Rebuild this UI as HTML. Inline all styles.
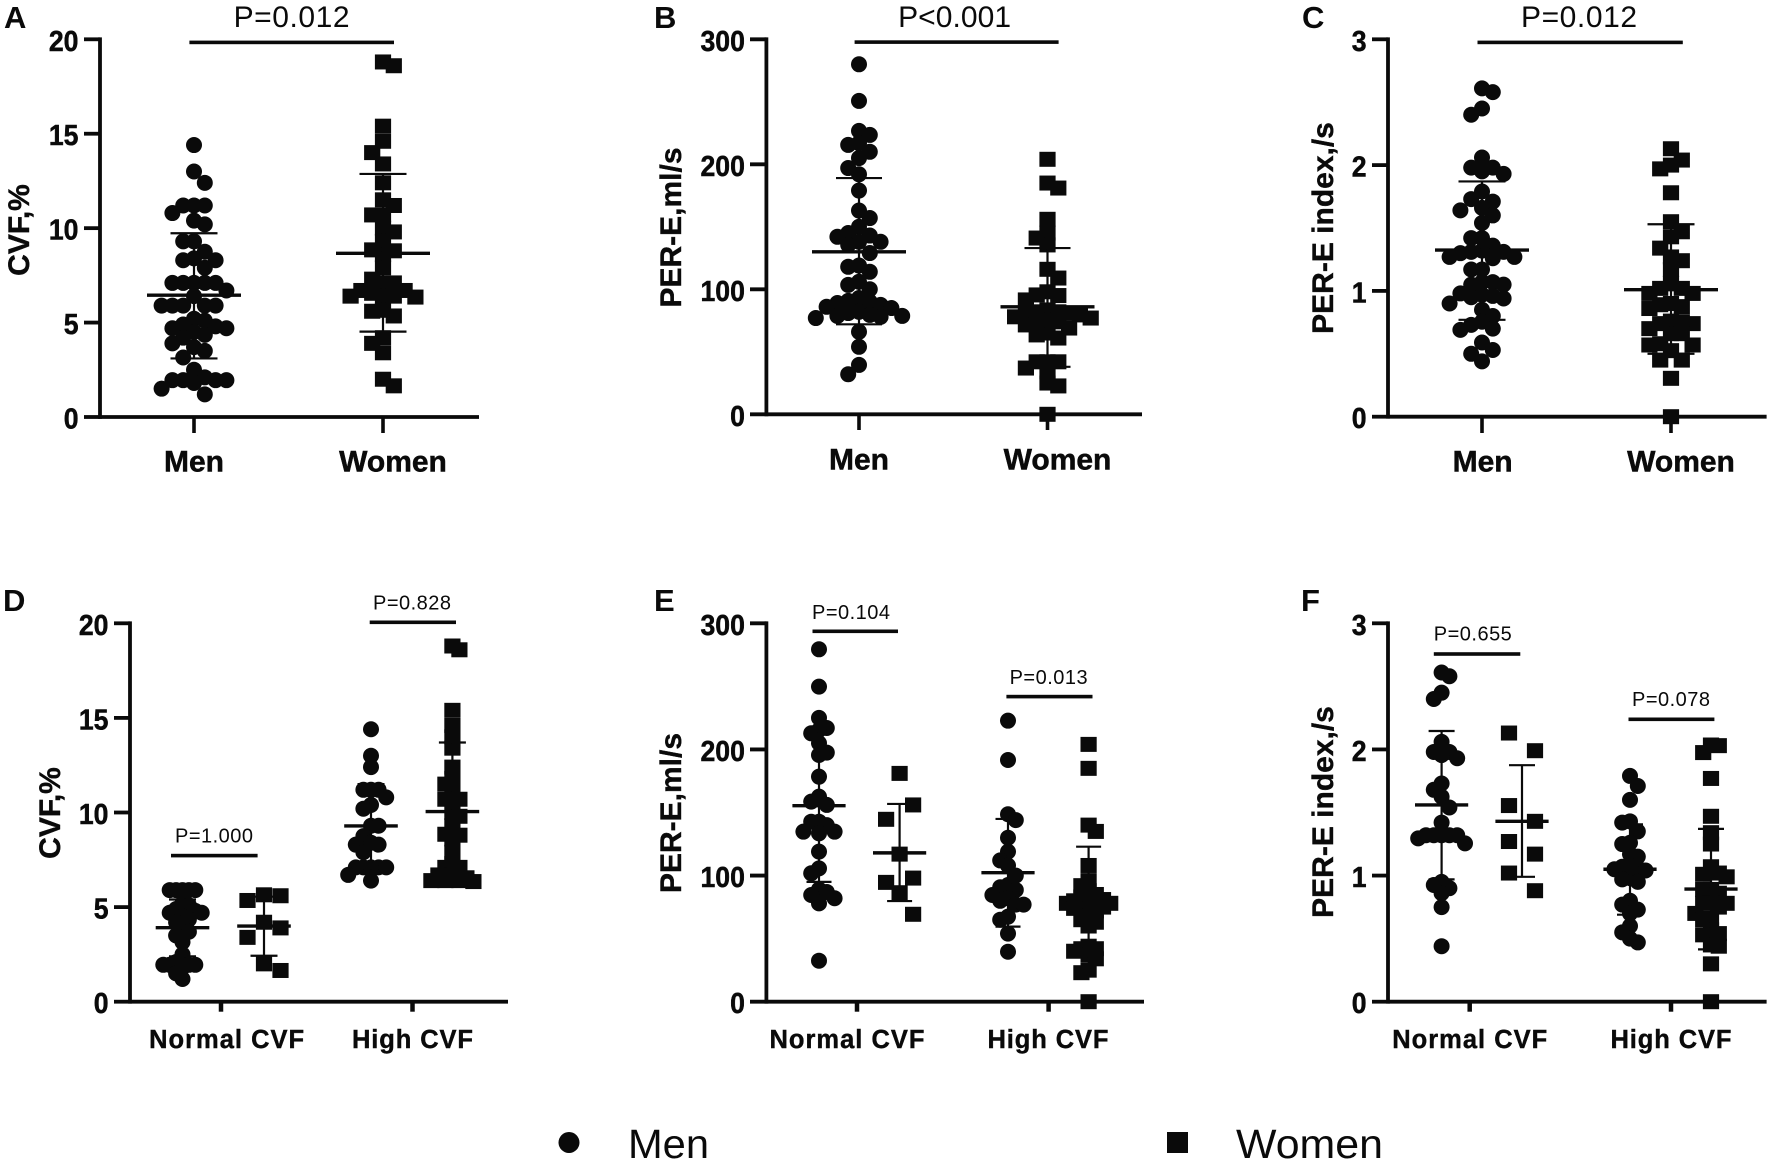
<!DOCTYPE html>
<html lang="en">
<head>
<meta charset="utf-8">
<title>CVF and PER-E by sex</title>
<style>
html,body{margin:0;padding:0;background:#fff;}
svg{display:block;}
text{font-family:"Liberation Sans",Arial,sans-serif;fill:#0a0a0a;}
.panel-letter{font-size:31px;font-weight:700;}
.tick-label{font-size:29px;font-weight:700;stroke:#0a0a0a;stroke-width:.5px;}
.cat-large{font-size:30px;font-weight:700;text-anchor:middle;stroke:#0a0a0a;stroke-width:.5px;}
.cat-small{font-size:25.5px;font-weight:700;text-anchor:middle;stroke:#0a0a0a;stroke-width:.4px;}
.y-title{font-size:30px;font-weight:700;text-anchor:middle;stroke:#0a0a0a;stroke-width:.4px;}
.p-large{font-size:30px;text-anchor:middle;}
.p-small{font-size:20px;text-anchor:middle;}
.legend-text{font-size:41px;}
</style>
</head>
<body>
<svg id="figure" xmlns="http://www.w3.org/2000/svg" width="1772" height="1163" viewBox="0 0 1772 1163">
  <rect x="0" y="0" width="1772" height="1163" fill="#fff"/>

  <text class="panel-letter" x="4" y="28">A</text>
  <text class="panel-letter" x="654" y="28">B</text>
  <text class="panel-letter" x="1302" y="28">C</text>
  <text class="panel-letter" x="3" y="611">D</text>
  <text class="panel-letter" x="654" y="611">E</text>
  <text class="panel-letter" x="1301" y="611">F</text>

  <text class="y-title" transform="translate(29 230) rotate(-90)">CVF,%</text>
  <text class="y-title" transform="translate(681 227.5) rotate(-90)">PER-E,ml/s</text>
  <text class="y-title" transform="translate(1333 228) rotate(-90)">PER-E index,/s</text>
  <text class="y-title" transform="translate(60 813) rotate(-90)">CVF,%</text>
  <text class="y-title" transform="translate(681 813) rotate(-90)">PER-E,ml/s</text>
  <text class="y-title" transform="translate(1333 812) rotate(-90)">PER-E index,/s</text>

  <text class="p-large" x="291.6" y="27" textLength="116">P=0.012</text>
  <rect x="189.4" y="40.6" width="204.6" height="3.6" fill="#0a0a0a"/>
  <text class="p-large" x="954.6" y="27" textLength="113">P&lt;0.001</text>
  <rect x="854.6" y="40.3" width="204" height="3.6" fill="#0a0a0a"/>
  <text class="p-large" x="1579" y="27" textLength="116">P=0.012</text>
  <rect x="1477.5" y="40.6" width="205.3" height="3.6" fill="#0a0a0a"/>
  <text class="p-small" x="214" y="842.7" textLength="78">P=1.000</text>
  <rect x="171" y="853.8" width="86.6" height="3.6" fill="#0a0a0a"/>
  <text class="p-small" x="412" y="609.3" textLength="78">P=0.828</text>
  <rect x="369.7" y="620.5" width="86.3" height="3.6" fill="#0a0a0a"/>
  <text class="p-small" x="851" y="619" textLength="78">P=0.104</text>
  <rect x="812.5" y="629.5" width="85.5" height="3.6" fill="#0a0a0a"/>
  <text class="p-small" x="1048.6" y="684" textLength="78">P=0.013</text>
  <rect x="1006.4" y="694.8" width="86.1" height="3.6" fill="#0a0a0a"/>
  <text class="p-small" x="1472.8" y="640.7" textLength="78">P=0.655</text>
  <rect x="1433.8" y="652.2" width="86.5" height="3.6" fill="#0a0a0a"/>
  <text class="p-small" x="1671" y="706" textLength="78">P=0.078</text>
  <rect x="1628.5" y="717.5" width="85.9" height="3.6" fill="#0a0a0a"/>

  <g>
    <circle cx="569" cy="1142.5" r="10.5" fill="#0a0a0a"/>
    <text class="legend-text" x="628" y="1158" textLength="81" lengthAdjust="spacingAndGlyphs">Men</text>
    <rect x="1167" y="1132" width="21" height="21" fill="#0a0a0a"/>
    <text class="legend-text" x="1236" y="1158" textLength="147" lengthAdjust="spacingAndGlyphs">Women</text>
  </g>
</svg>

<script>
// ---------- Panel A: CVF, %
const panelATicks = [0, 5, 10, 15, 20];
const panelACategories = ["Men", "Women"];
const panelAMen = [14.4,13,12.4,11.2,11.2,11.2,10.8,10.4,10.2,9.3,9.3,8.75,8.4,8.3,8.3,7.9,7.1,7.1,7.1,7.1,7.1,6.7,6.4,5.9,5.9,5.9,5.9,5.9,5.2,5.1,4.9,4.8,4.7,4.7,4.5,4.35,4.2,3.9,3.7,3.5,3.15,2.5,2.1,1.95,1.95,1.95,1.95,1.8,1.5,1.2];
const panelAWomen = [18.8,18.6,15.4,14.6,14,13.4,12.4,11.5,11.2,10.7,10.7,10,9.8,9.3,8.85,8.8,8.6,7.9,7.3,7.1,7.1,6.7,6.7,6.55,6.4,6.4,6.4,6.35,5.65,5.6,5.35,4.2,3.9,3.4,2.0,1.65];
const panelAMeans = [6.45, 8.67];
const panelAUpper = [9.73, 12.87];
const panelALower = [3.1, 4.52];

// ---------- Panel B: PER-E, ml/s
const panelBTicks = [0, 100, 200, 300];
const panelBCategories = ["Men", "Women"];
const panelBMen = [280,250.7,226.7,223.5,217,215.5,210,205,197,192,179,163,157,150,145,143,142,138,138,135.5,129,119,118,114,106,103.5,100,93,90.7,90,89,87.5,86,85,82,81,79.5,78.7,78.7,78,77,66,54,39.5,32];
const panelBWomen = [204,185,181,156,145,141,135.5,116,109,98,95.5,95,91.5,83.5,82,82,81,81,79.5,78,77,75.5,74,74,71.5,69,65,63.5,61,42,42,42,37,34,25,22.7,0];
const panelBMeans = [130, 86];
const panelBUpper = [189, 133];
const panelBLower = [72, 38];

// ---------- Panel C: PER-E index, /s
const panelCTicks = [0, 1, 2, 3];
const panelCCategories = ["Men", "Women"];
const panelCMen = [2.61,2.58,2.45,2.4,2.06,1.98,1.98,1.95,1.93,1.79,1.73,1.71,1.66,1.64,1.6,1.54,1.42,1.42,1.36,1.32,1.31,1.31,1.3,1.27,1.27,1.26,1.17,1.17,1.07,1.07,1.05,1.05,0.98,0.97,0.96,0.95,0.94,0.9,0.85,0.8,0.755,0.73,0.7,0.69,0.59,0.53,0.5,0.44];
const panelCWomen = [2.13,2.04,2.0,1.97,1.78,1.55,1.47,1.43,1.34,1.27,1.24,1.17,1.06,1.02,1.02,0.98,0.98,0.9,0.89,0.875,0.86,0.76,0.755,0.74,0.74,0.7,0.66,0.66,0.58,0.57,0.57,0.525,0.45,0.45,0.305,0];
const panelCMeans = [1.325, 1.01];
const panelCUpper = [1.87, 1.53];
const panelCLower = [0.77, 0.5];

// ---------- Panel D: CVF, % by CVF group
const panelDTicks = [0, 5, 10, 15, 20];
const panelDCategories = ["Normal CVF", "High CVF"];
const panelDMenNormal = [5.9,5.9,5.9,5.9,5.9,5.2,5.1,4.9,4.8,4.7,4.7,4.5,4.35,4.2,3.9,3.7,3.5,3.15,2.5,2.1,1.95,1.95,1.95,1.95,1.8,1.5,1.2];
const panelDWomenNormal = [5.65,5.6,5.35,4.2,3.9,3.4,2.0,1.65];
const panelDMenHigh = [14.4,13,12.4,11.2,11.2,11.2,10.8,10.4,10.2,9.3,9.3,8.75,8.4,8.3,8.3,7.9,7.1,7.1,7.1,7.1,7.1,6.7,6.4];
const panelDWomenHigh = [18.8,18.6,15.4,14.6,14,13.4,12.4,11.8,11.5,11.2,10.7,10.7,10,9.8,9.3,8.85,8.8,8.6,7.9,7.3,7.1,7.1,6.7,6.7,6.55,6.4,6.4,6.4,6.35];
const panelDMeans = [3.91, 4.0, 9.29, 10.05];
const panelDUpper = [5.4, 5.55, 11.5, 13.7];
const panelDLower = [2.4, 2.43, 7.05, 6.4];

// ---------- Panel E: PER-E, ml/s by CVF group
const panelETicks = [0, 100, 200, 300];
const panelECategories = ["Normal CVF", "High CVF"];
const panelEMenNormal = [279.4,249.8,225,217,215.4,212.8,205,197.5,195.6,178.4,162.6,158.6,156,142.7,142.7,140,134.8,134.8,133.5,119,105.7,101.8,89,87,84.6,82,78,32.5];
const panelEWomenNormal = [181,156,144.6,117,98,94.6,86.4,69.3];
const panelEMenHigh = [222.8,191.6,148.6,144,130,119,112,108,100,92.5,90.7,88.6,84.6,82,80,77,77,67.4,65,54,39.6];
const panelEWomenHigh = [204,185,140,135,108,96,92,88,85,83,82,81,80,79,78,78,77,76,75,74,72,68,65,63,60,44,42,42,40,37,34,25,23,0];
const panelEMeans = [155.4, 118, 102.3, 78];
const panelEUpper = [214.6, 156.8, 144.9, 122.9];
const panelELower = [95, 79.8, 59.5, 36];

// ---------- Panel F: PER-E index, /s by CVF group
const panelFTicks = [0, 1, 2, 3];
const panelFCategories = ["Normal CVF", "High CVF"];
const panelFMenNormal = [2.61,2.58,2.45,2.4,2.06,1.98,1.98,1.955,1.93,1.73,1.68,1.625,1.54,1.42,1.32,1.32,1.32,1.32,1.32,1.295,1.255,0.95,0.925,0.9,0.86,0.75,0.44];
const panelFWomenNormal = [2.13,1.99,1.555,1.43,1.27,1.17,1.02,0.88];
const panelFMenHigh = [1.79,1.71,1.6,1.43,1.42,1.35,1.26,1.25,1.17,1.15,1.08,1.07,1.06,1.05,1.04,0.98,0.97,0.95,0.8,0.77,0.73,0.7,0.6,0.55,0.5,0.47];
const panelFWomenHigh = [2.035,2.03,1.975,1.77,1.47,1.34,1.25,1.07,1.02,1.01,0.99,0.89,0.89,0.86,0.78,0.78,0.78,0.75,0.7,0.66,0.65,0.57,0.54,0.53,0.45,0.44,0.3,0];
const panelFMeans = [1.56, 1.43, 1.05, 0.893];
const panelFUpper = [2.146, 1.875, 1.406, 1.37];
const panelFLower = [0.97, 0.99, 0.69, 0.415];

// ---------- Layout (not data)
const INK = "#0a0a0a";
const SVG_NS = "http://www.w3.org/2000/svg";
const figure = document.getElementById("figure");

const panels = [
  { key:"a", axisX:100, yTop:39.3, yBase:417, left:84, right:479, tickBottom:433, tickW:3.6, yMax:20,
    yTicks:panelATicks, categories:panelACategories, catClass:"cat-large", catY:471.5, catX:[194,393], catLen:[null,null], tickX:[194,383],
    meanHalf:47, capHalf:23.5, slot:10.8, minSep:11.5,
    series:[{name:"men",shape:"circle",values:panelAMen,cx:194},{name:"women",shape:"square",values:panelAWomen,cx:383}],
    means:panelAMeans, upper:panelAUpper, lower:panelALower },
  { key:"b", axisX:766.4, yTop:39.3, yBase:414.3, left:750, right:1142, tickBottom:430, tickW:3.6, yMax:300,
    yTicks:panelBTicks, categories:panelBCategories, catClass:"cat-large", catY:469.3, catX:[859,1057.5], catLen:[null,null], tickX:[859,1047.5],
    meanHalf:47, capHalf:23, slot:10.8, minSep:11.5,
    series:[{name:"men",shape:"circle",values:panelBMen,cx:859},{name:"women",shape:"square",values:panelBWomen,cx:1047.5,minSep:9}],
    means:panelBMeans, upper:panelBUpper, lower:panelBLower },
  { key:"c", axisX:1388, yTop:39.3, yBase:416.7, left:1372, right:1766.6, tickBottom:433, tickW:3.6, yMax:3,
    yTicks:panelCTicks, categories:panelCCategories, catClass:"cat-large", catY:471.5, catX:[1482.6,1681], catLen:[null,null], tickX:[1482,1671],
    meanHalf:47, capHalf:23.5, slot:10.8, minSep:11.5,
    series:[{name:"men",shape:"circle",values:panelCMen,cx:1482},{name:"women",shape:"square",values:panelCWomen,cx:1671}],
    means:panelCMeans, upper:panelCUpper, lower:panelCLower },
  { key:"d", axisX:130, yTop:623.3, yBase:1001.7, left:114, right:508, tickBottom:1011.7, tickW:4.5, yMax:20,
    yTicks:panelDTicks, categories:panelDCategories, catClass:"cat-small", catY:1048, catX:[226.6,412.5], catLen:[155,121], tickX:[221,412.5],
    meanHalf:26.8, capHalf:13.5, slot:7.6, minSep:11,
    series:[{name:"men-normal",shape:"circle",values:panelDMenNormal,cx:182.5,slot:6.4},
            {name:"women-normal",shape:"square",values:panelDWomenNormal,cx:264,slot:16.5,minSep:20,columns:[0,1,-1]},
            {name:"men-high",shape:"circle",values:panelDMenHigh,cx:371},
            {name:"women-high",shape:"square",values:panelDWomenHigh,cx:452.4,slot:7}],
    means:panelDMeans, upper:panelDUpper, lower:panelDLower },
  { key:"e", axisX:766.4, yTop:623.3, yBase:1001.7, left:750, right:1144, tickBottom:1011.7, tickW:4.5, yMax:300,
    yTicks:panelETicks, categories:panelECategories, catClass:"cat-small", catY:1048, catX:[847,1048], catLen:[155,121], tickX:[857,1048.6],
    meanHalf:26.6, capHalf:12.5, slot:7.8, minSep:11,
    series:[{name:"men-normal",shape:"circle",values:panelEMenNormal,cx:819},
            {name:"women-normal",shape:"square",values:panelEWomenNormal,cx:899.6,slot:13.5,minSep:50,columns:[0,1,-1]},
            {name:"men-high",shape:"circle",values:panelEMenHigh,cx:1008},
            {name:"women-high",shape:"square",values:panelEWomenHigh,cx:1088.6,slot:7.2,minSep:7}],
    means:panelEMeans, upper:panelEUpper, lower:panelELower },
  { key:"f", axisX:1388, yTop:623.3, yBase:1001.7, left:1372, right:1766.6, tickBottom:1011.7, tickW:4.5, yMax:3,
    yTicks:panelFTicks, categories:panelFCategories, catClass:"cat-small", catY:1048, catX:[1469.7,1671], catLen:[155,121], tickX:[1469.7,1671],
    meanHalf:26.6, capHalf:13, slot:7.8, minSep:11,
    series:[{name:"men-normal",shape:"circle",values:panelFMenNormal,cx:1441.6},
            {name:"women-normal",shape:"square",values:panelFWomenNormal,cx:1522,slot:13,minSep:600,columns:[-1,1]},
            {name:"men-high",shape:"circle",values:panelFMenHigh,cx:1630},
            {name:"women-high",shape:"square",values:panelFWomenHigh,cx:1711}],
    means:panelFMeans, upper:panelFUpper, lower:panelFLower }
];

function svgEl(tag, parent, attrs) {
  const el = document.createElementNS(SVG_NS, tag);
  for (const k in attrs) el.setAttribute(k, attrs[k]);
  parent.appendChild(el);
  return el;
}

// Beeswarm: places each value in the nearest free column beside the centre.
// With a fixed column list, a value falls back to the column with the most room.
function swarmColumns(pixelYs, minSep, columns) {
  const order = pixelYs.map((y, i) => i).sort((a, b) => pixelYs[a] - pixelYs[b]);
  const taken = {};
  const cols = new Array(pixelYs.length).fill(0);
  let sign = 1;
  order.forEach(i => {
    const y = pixelYs[i];
    const candidates = columns || Array.from({length:40}, (_, n) => n === 0 ? 0 : sign * (n % 2 ? (n + 1) / 2 : -n / 2));
    let chosen = null;
    let bestRoom = -1;
    let bestCol = candidates[0];
    for (const k of candidates) {
      const list = taken[k] || [];
      const room = list.length ? Math.min(...list.map(o => Math.abs(o - y))) : Infinity;
      if (room >= minSep) { chosen = k; break; }
      if (room > bestRoom) { bestRoom = room; bestCol = k; }
    }
    if (chosen === null) chosen = bestCol;
    (taken[chosen] || (taken[chosen] = [])).push(y);
    cols[i] = chosen;
    if (chosen !== 0) sign = -sign;
  });
  return cols;
}

function drawPanel(p) {
  const g = svgEl("g", figure, {});
  
  

  const yScale = v => p.yBase - (v / p.yMax) * (p.yBase - p.yTop);

  // axes
  const yAxis = svgEl("line", g, { x1:p.axisX, x2:p.axisX, y1:p.yTop - 1.9, y2:p.yBase + 1.9, stroke:INK, "stroke-width":3.8 });
  
  
  const xAxis = svgEl("line", g, { x1:p.axisX, x2:p.right, y1:p.yBase, y2:p.yBase, stroke:INK, "stroke-width":3.8 });
  
  

  p.yTicks.forEach(t => {
    const y = yScale(t);
    const mark = svgEl("line", g, { x1:p.left, x2:p.axisX, y1:y, y2:y, stroke:INK, "stroke-width":3.8 });
    
    
    const text = String(t);
    const label = svgEl("text", g, { x:p.axisX - 21.5, y:y + 11.5, "text-anchor":"end", class:"tick-label", textLength:text.length * 14.8, lengthAdjust:"spacingAndGlyphs" });
    
    
    label.textContent = text;
  });

  p.categories.forEach((c, i) => {
    const mark = svgEl("line", g, { x1:p.tickX[i], x2:p.tickX[i], y1:p.yBase, y2:p.tickBottom, stroke:INK, "stroke-width":p.tickW });
    
    
    const label = svgEl("text", g, { x:p.catX[i], y:p.catY, class:p.catClass });
    if (p.catLen[i]) label.setAttribute("textLength", p.catLen[i]);
    
    
    label.textContent = c;
  });

  // series + error bars
  p.series.forEach((s, si) => {
    const sg = svgEl("g", g, {});
    
    

    const ys = s.values.map(yScale);
    const cols = swarmColumns(ys, s.minSep || p.minSep, s.columns);
    const slot = s.slot || p.slot;
    s.values.forEach((v, i) => {
      const px = s.cx + cols[i] * slot;
      let mark;
      if (s.shape === "circle") {
        mark = svgEl("circle", sg, { cx:px, cy:ys[i], r:8, fill:INK });
      } else {
        mark = svgEl("rect", sg, { x:px - 8.1, y:ys[i] - 7.5, width:16.2, height:15, fill:INK });
      }
      
      
    });

    const yMean = yScale(p.means[si]);
    const yUp = yScale(p.upper[si]);
    const yLow = yScale(p.lower[si]);
    const stem = svgEl("line", sg, { x1:s.cx, x2:s.cx, y1:yUp, y2:yLow, stroke:INK, "stroke-width":2.2 });
    
    
    const capUp = svgEl("line", sg, { x1:s.cx - p.capHalf, x2:s.cx + p.capHalf, y1:yUp, y2:yUp, stroke:INK, "stroke-width":2.2 });
    
    
    const capLow = svgEl("line", sg, { x1:s.cx - p.capHalf, x2:s.cx + p.capHalf, y1:yLow, y2:yLow, stroke:INK, "stroke-width":2.2 });
    
    
    const meanLine = svgEl("line", sg, { x1:s.cx - p.meanHalf, x2:s.cx + p.meanHalf, y1:yMean, y2:yMean, stroke:INK, "stroke-width":3.4 });
    
    
  });
}

panels.forEach(drawPanel);
</script>
</body>
</html>
